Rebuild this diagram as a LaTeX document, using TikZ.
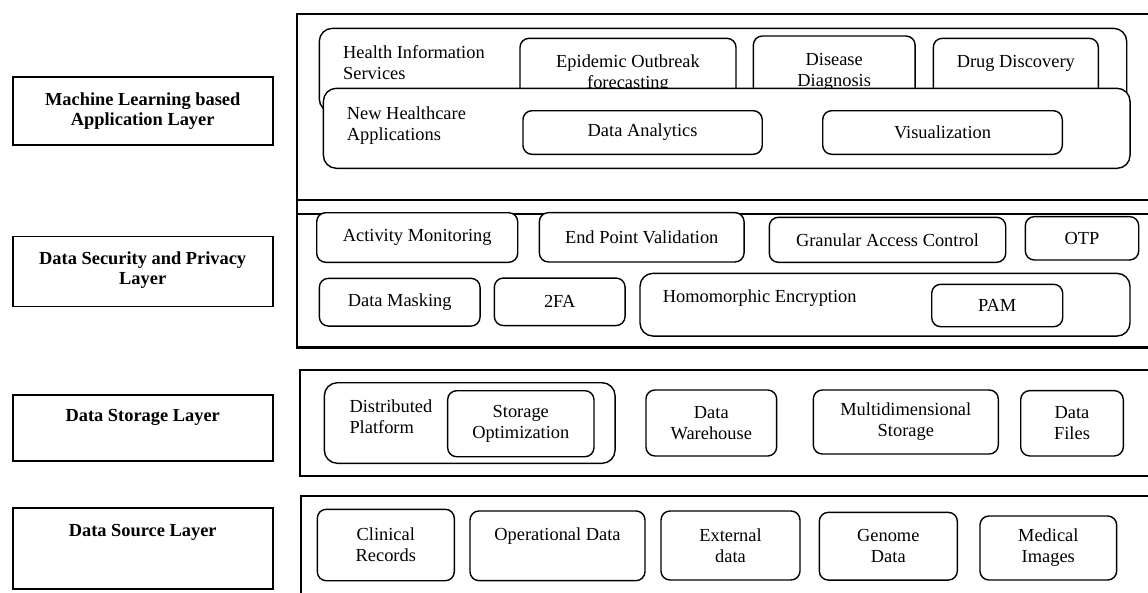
\documentclass[tikz,border=0pt]{standalone}
\usepackage{fontspec}
\setmainfont{Liberation Serif}
\usetikzlibrary{positioning}
\tikzstyle{frame}=[draw, line width=2.4pt, inner sep=0pt]
\tikzstyle{layerbox}=[draw, line width=1.7pt, minimum width=260pt, inner sep=0pt]
\tikzstyle{layertext}=[inner sep=0pt, align=center, font=\bfseries\fontsize{18.4}{20}\selectfont]
\tikzstyle{rbox}=[draw, fill=white, rounded corners=9pt, line width=1.4pt, inner sep=0pt, align=center]
\tikzstyle{bigbox}=[rbox, rounded corners=13pt]
\tikzstyle{boxtext}=[inner sep=0pt, align=left]

\begin{document}
\begin{tikzpicture}[x=1pt, y=-1pt, font=\fontsize{18.4}{21}\selectfont]
\clip (0,0) rectangle (1148,592);

% layer names
\node[layerbox, minimum height=68pt] (mlname) at (142.7,111) {};
\node[layertext, below=16pt of mlname.north] (mltext) {Machine Learning based\\Application Layer};
\node[layerbox, minimum height=70pt] (secname) at (142.7,271.5) {};
\node[layertext, below=16pt of secname.north] (sectext) {Data Security and Privacy\\Layer};
\node[layerbox, minimum height=66pt] (storename) at (142.7,428) {};
\node[layertext, below=15pt of storename.north] (storetext) {Data Storage Layer};
\node[layerbox, minimum height=81pt] (srcname) at (142.7,548.5) {};
\node[layertext, below=17pt of srcname.north] (srctext) {Data Source Layer};

% layer frames
\node[frame, minimum width=863pt, minimum height=200pt] (appframe) at (728.5,114) {};
\node[frame, minimum width=863pt, minimum height=147.3pt] (secframe) at (728.5,273.65) {};
\node[frame, minimum width=860pt, minimum height=106pt] (storeframe) at (730,423) {};
\node[frame, minimum width=859pt, minimum height=114pt] (srcframe) at (730.5,553) {};

% application layer
\node[bigbox, minimum width=807.4pt, minimum height=83.7pt] (healthbox) at (723,70.2) {};
\node[boxtext, anchor=north west] (healthtext) at (343,45.5) {Health Information\\Services};
\node[rbox, minimum width=216pt, minimum height=70.1pt] (epibox) at (628,73.4) {Epidemic Outbreak\\forecasting};
\node[rbox, minimum width=161.7pt, minimum height=72.5pt] (disbox) at (834.2,72.25) {Disease\\Diagnosis};
\node[rbox, minimum width=165pt, minimum height=68.7pt] (drugbox) at (1015.8,72.65) {};
\node[boxtext, anchor=north] (drugtext) at (1015.8,55) {Drug Discovery};
\node[bigbox, minimum width=806.7pt, minimum height=80pt] (newbox) at (726.7,128.3) {};
\node[boxtext, anchor=north west] (newtext) at (346.7,106.5) {New Healthcare\\Applications};
\node[rbox, minimum width=239.3pt, minimum height=43.6pt] (anabox) at (642.6,132.5) {Data Analytics};
\node[rbox, minimum width=239.6pt, minimum height=43.6pt] (visbox) at (942.5,132.5) {Visualization};

% security layer
\node[rbox, minimum width=201pt, minimum height=49.6pt] (actbox) at (417.2,237.5) {Activity Monitoring};
\node[rbox, minimum width=204.7pt, minimum height=49.3pt] (endbox) at (641.7,237.3) {End Point Validation};
\node[rbox, minimum width=236.4pt, minimum height=45pt] (granbox) at (887.5,239.8) {Granular Access Control};
\node[rbox, minimum width=113.4pt, minimum height=43.3pt] (otpbox) at (1082,238.3) {OTP};
\node[rbox, minimum width=160.7pt, minimum height=47.7pt] (maskbox) at (399.7,302.2) {Data Masking};
\node[rbox, minimum width=130.7pt, minimum height=47.5pt] (tfabox) at (559.7,301.8) {2FA};
\node[bigbox, minimum width=490pt, minimum height=62.7pt] (homobox) at (885,304.7) {};
\node[boxtext, anchor=north west] (homotext) at (662.7,290) {Homomorphic Encryption};
\node[rbox, minimum width=131pt, minimum height=42.4pt] (pambox) at (997.2,305.5) {PAM};

% storage layer
\node[bigbox, minimum width=290.7pt, minimum height=80.6pt] (distbox) at (469.7,423) {};
\node[boxtext, anchor=north west] (disttext) at (349.3,400) {Distributed\\Platform};
\node[rbox, minimum width=146.3pt, minimum height=66pt] (storoptbox) at (520.8,423.7) {Storage\\Optimization};
\node[rbox, minimum width=130.7pt, minimum height=66pt] (whbox) at (711.3,423) {Data\\Warehouse};
\node[rbox, minimum width=185pt, minimum height=64pt] (mdbox) at (905.8,422) {Multidimensional\\Storage};
\node[rbox, minimum width=102.6pt, minimum height=65.3pt] (filebox) at (1072,423.3) {Data\\Files};

% source layer
\node[rbox, minimum width=137pt, minimum height=71.4pt] (clinbox) at (385.8,545) {Clinical\\Records};
\node[rbox, minimum width=175pt, minimum height=69.7pt] (operbox) at (557.5,545.8) {};
\node[boxtext, anchor=north] (opertext) at (557.5,527.5) {Operational Data};
\node[rbox, minimum width=139pt, minimum height=69pt] (extbox) at (730.5,545.5) {External\\data};
\node[rbox, minimum width=138pt, minimum height=67.7pt] (genbox) at (888.3,546.2) {Genome\\Data};
\node[rbox, minimum width=136.7pt, minimum height=64pt] (medbox) at (1048.3,548) {Medical\\Images};
\end{tikzpicture}
\end{document}
